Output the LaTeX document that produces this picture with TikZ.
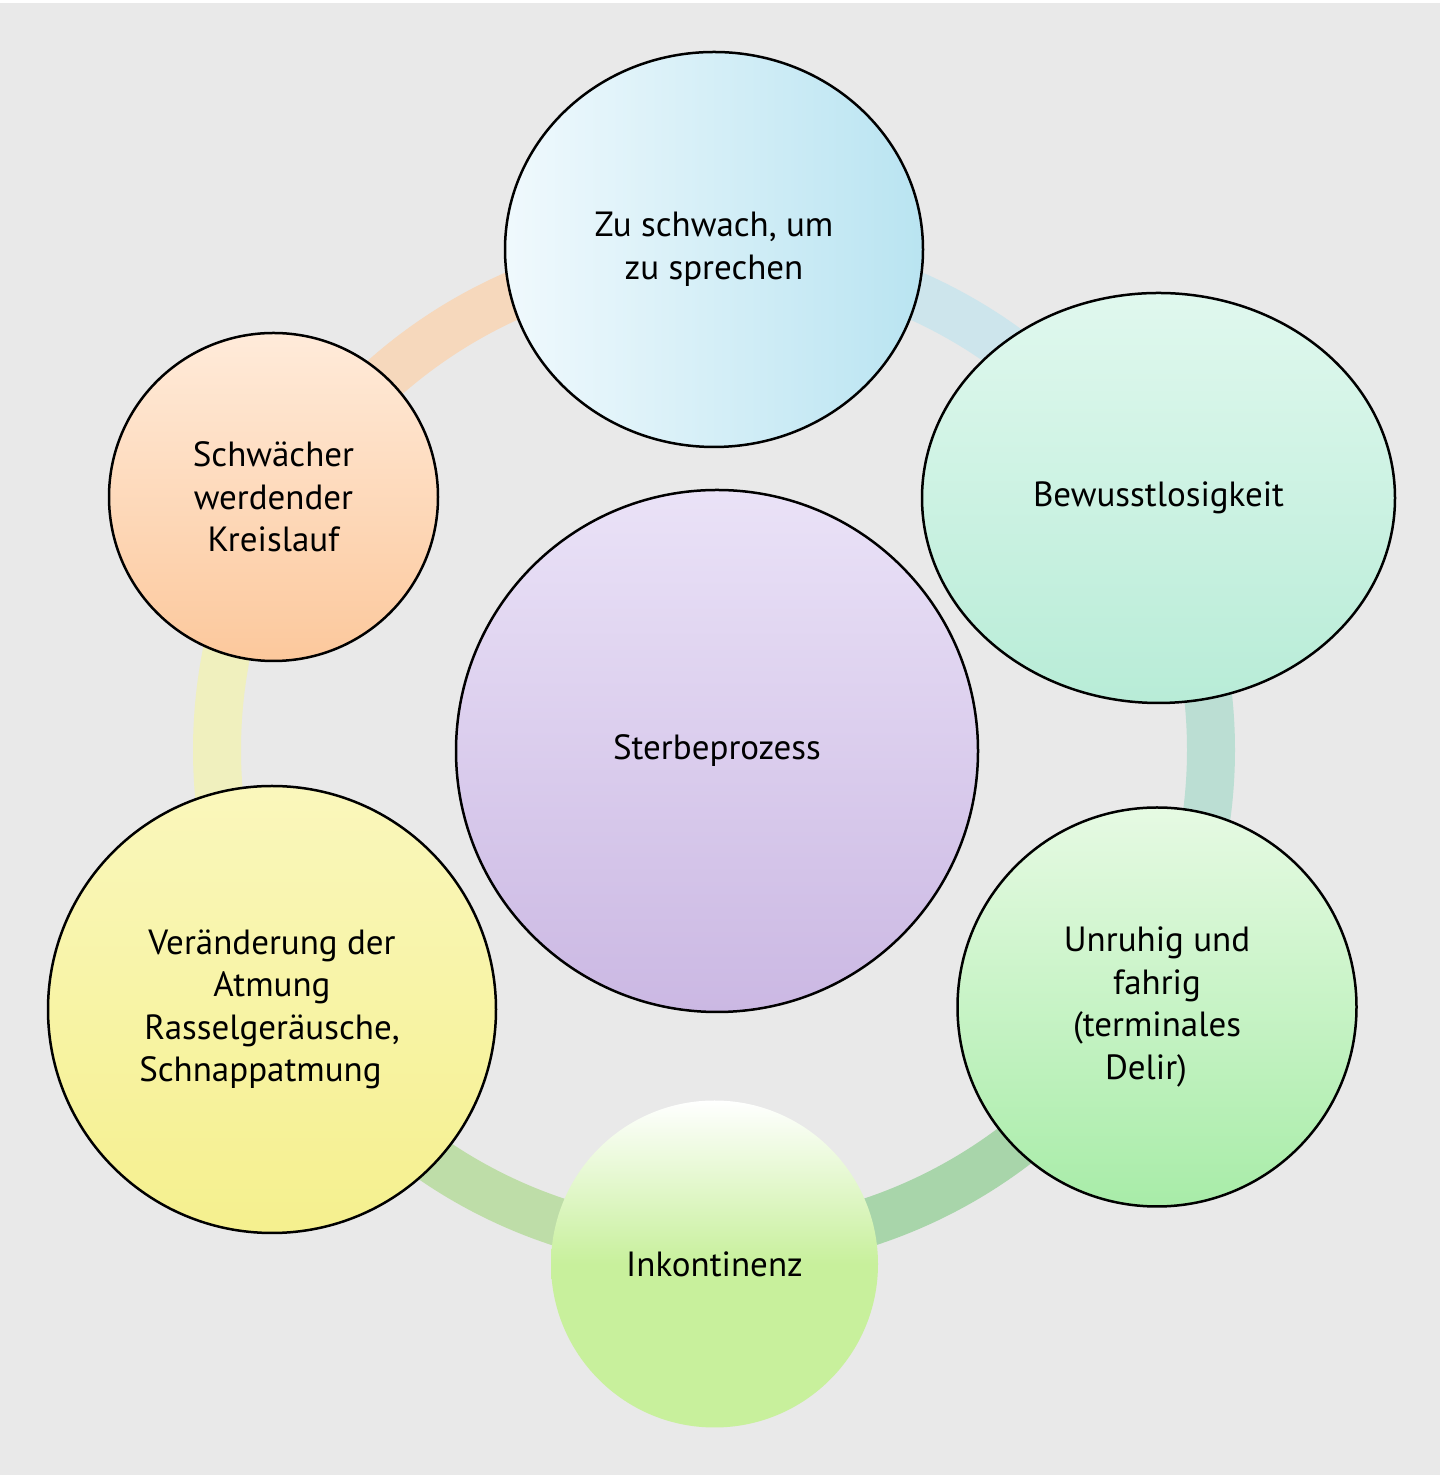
\documentclass[tikz,border=0pt]{standalone}
\usepackage{fontspec}
\setmainfont{PT Sans}
\usetikzlibrary{shapes.geometric}
\definecolor{bg}{HTML}{E9E9E9}
\definecolor{segTL}{HTML}{F6D8BC}
\definecolor{segTR}{HTML}{CDE5EC}
\definecolor{segR}{HTML}{BBDED3}
\definecolor{segBR}{HTML}{A8D5AA}
\definecolor{segBL}{HTML}{BEDDA8}
\definecolor{segL}{HTML}{F0F0BE}
\definecolor{blueL}{HTML}{F0F9FD}
\definecolor{blueR}{HTML}{B9E4F1}
\definecolor{mintT}{HTML}{E0F8EE}
\definecolor{mintB}{HTML}{B8ECD7}
\definecolor{greenT}{HTML}{E6FAE3}
\definecolor{greenB}{HTML}{A8ECA8}
\definecolor{limeB}{HTML}{C8F09C}
\definecolor{orangeT}{HTML}{FFEBDA}
\definecolor{orangeB}{HTML}{FCC89C}
\definecolor{yellowT}{HTML}{FAF7BC}
\definecolor{yellowB}{HTML}{F5F08E}
\definecolor{purpleT}{HTML}{EAE2F7}
\definecolor{purpleB}{HTML}{CBB8E3}
\pgfdeclareverticalshading{inkshade}{100bp}{color(0bp)=(limeB); color(50bp)=(limeB); color(75bp)=(white); color(100bp)=(white)}
\begin{document}
\begin{tikzpicture}[x=1pt,y=1pt,
  seg/.style={line width=48pt},
  bubble/.style={ellipse, draw=black, line width=2.5pt, inner sep=0pt, align=center,
    font=\fontsize{35}{42.5}\selectfont}]
\useasboundingbox (0,0) rectangle (1442,1475);
\fill[white] (0,0) rectangle (1442,1475);
\fill[bg] (0,0) rectangle (1440,1472);
\coordinate (ring) at (714,725);
% ring segments
\draw[seg, segTL] ([shift={(90:497pt)}]ring) arc[start angle=90, end angle=150, radius=497pt];
\draw[seg, segTR] ([shift={(30:497pt)}]ring) arc[start angle=30, end angle=90, radius=497pt];
\draw[seg, segR] ([shift={(-30:497pt)}]ring) arc[start angle=-30, end angle=30, radius=497pt];
\draw[seg, segBR] ([shift={(-90:497pt)}]ring) arc[start angle=-90, end angle=-30, radius=497pt];
\draw[seg, segBL] ([shift={(210:497pt)}]ring) arc[start angle=210, end angle=270, radius=497pt];
\draw[seg, segL] ([shift={(150:497pt)}]ring) arc[start angle=150, end angle=210, radius=497pt];
% bubbles
\node[bubble, minimum width=418pt, minimum height=395pt, left color=blueL, right color=blueR]
  (speak) at (714,1225.5) {Zu schwach, um\\zu sprechen};
\node[bubble, minimum width=473pt, minimum height=410pt, top color=mintT, bottom color=mintB]
  (uncon) at (1158.5,977) {Bewusstlosigkeit};
\node[bubble, minimum width=399pt, minimum height=399pt, top color=greenT, bottom color=greenB]
  (restless) at (1157,468) {Unruhig und\\fahrig\\(terminales\\Delir)\hspace*{22pt}};
\node[bubble, draw=none, minimum width=327pt, minimum height=327pt, shading=inkshade]
  (incont) at (714.5,211) {Inkontinenz};
\node[bubble, minimum width=448pt, minimum height=447pt, top color=yellowT, bottom color=yellowB]
  (breath) at (272,465.5) {Veränderung der\\Atmung\\Rasselgeräusche,\\Schnappatmung\hspace*{23pt}};
\node[bubble, minimum width=329pt, minimum height=328pt, top color=orangeT, bottom color=orangeB]
  (circ) at (273.5,978) {Schwächer\\werdender\\Kreislauf};
\node[bubble, minimum width=522pt, minimum height=522pt, top color=purpleT, bottom color=purpleB]
  (center) at (717,724) {Sterbeprozess};
\end{tikzpicture}
\end{document}
